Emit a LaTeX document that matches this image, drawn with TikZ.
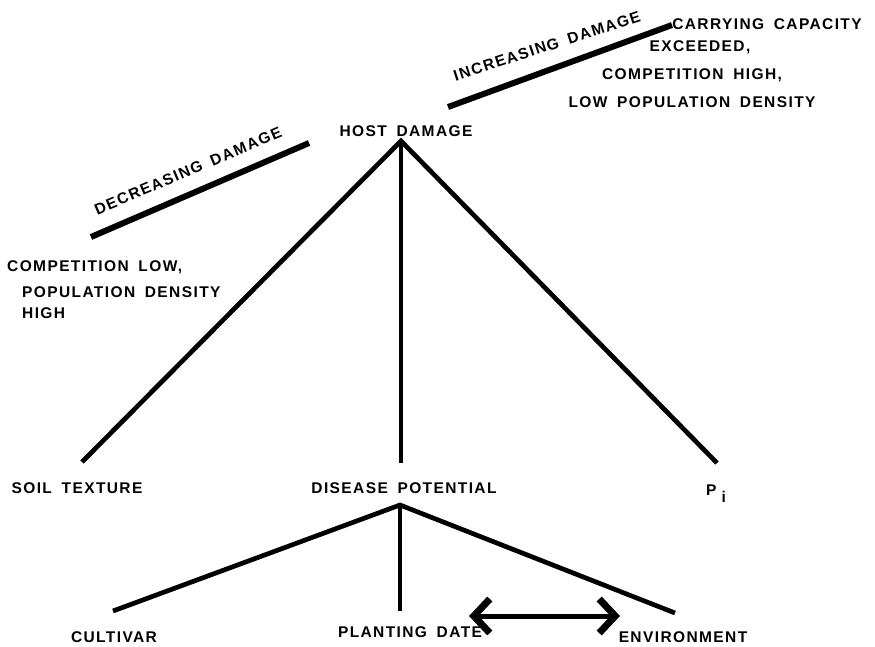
\documentclass[tikz,border=0pt]{standalone}
\usepackage{fontspec}
\setmainfont{Liberation Sans}[LetterSpace=9,WordSpace=1.7]
\usetikzlibrary{arrows.meta}
\tikzstyle{every picture}+=[font=\bfseries\fontsize{15.5}{18}\selectfont]
\tikzstyle{stem}=[line width=4.7pt]
\tikzstyle{bar}=[line width=6pt]
\tikzstyle{lbl}=[inner sep=0pt]
\tikzstyle{barb}=[line width=5pt, {Straight Barb[length=16pt,width=34pt,line width=2pt 1]}-{Straight Barb[length=16pt,width=34pt,line width=2pt 1]}]

\begin{document}
\begin{tikzpicture}[x=1pt,y=-1pt]
\useasboundingbox (0,0) rectangle (875,647);

%% upper triangle
\node[lbl] (host) at (406,131) {HOST DAMAGE};
\node[lbl] (soil) at (77,488) {SOIL TEXTURE};
\node[lbl] (dispot) at (404,488) {DISEASE POTENTIAL};
\node[lbl, anchor=base west] (pi) at (706,495) {P\hspace{5pt}\raisebox{-7pt}{i}};

\coordinate (hd) at (401,141);
\coordinate (soilend) at (82,462);
\coordinate (dispotend) at (401,463);
\coordinate (piend) at (717,463);

\draw[stem] (soilend) -- (hd) -- (piend);
\draw[stem] (hd) -- (dispotend);

%% lower triangle
\node[lbl] (cult) at (114,637) {CULTIVAR};
\node[lbl] (pdate) at (410,632) {PLANTING DATE};
\node[lbl] (envir) at (683,637) {ENVIRONMENT};

\coordinate (dp) at (400,505);
\coordinate (cultend) at (113,611);
\coordinate (pdateend) at (400,611);
\coordinate (envirend) at (675,613);

\draw[stem] (cultend) -- (dp) -- (envirend);
\draw[stem] (dp) -- (pdateend);

\coordinate (arrL) at (469,616);
\coordinate (arrR) at (620,616);
\draw[barb] (arrL) -- (arrR);

%% damage bars
\coordinate (decA) at (91,237);
\coordinate (decB) at (309,143);
\draw[bar] (decA) -- (decB);
\node[lbl, rotate=23] (declbl) at (188,171) {DECREASING DAMAGE};

\coordinate (incA) at (448,107);
\coordinate (incB) at (672,25);
\draw[bar] (incA) -- (incB);
\node[lbl, rotate=18] (inclbl) at (547,46) {INCREASING DAMAGE};

%% side texts
\node[lbl, anchor=north west, align=left] (lowcomp) at (7,260)
  {COMPETITION LOW,\\[8pt]\hspace*{15pt}POPULATION DENSITY\\[3pt]\hspace*{15pt}HIGH};
\node[lbl, anchor=north, align=center] (highcomp) at (692,18)
  {\hspace*{150pt}CARRYING CAPACITY\\[4pt]\hspace*{16pt}EXCEEDED,\\[10pt]COMPETITION HIGH,\\[10pt]LOW POPULATION DENSITY};

\end{tikzpicture}
\end{document}
